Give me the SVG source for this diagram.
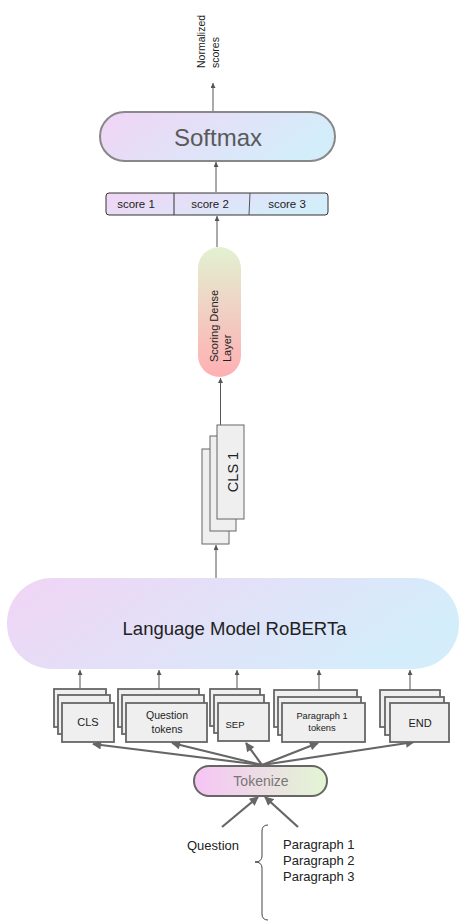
<svg xmlns="http://www.w3.org/2000/svg" width="459" height="922" viewBox="0 0 459 922">
<defs>
<linearGradient id="gPB" x1="0" y1="0" x2="1" y2="0.3">
<stop offset="0" stop-color="#f1d4f5"/><stop offset="1" stop-color="#d4edfb"/>
</linearGradient>
<linearGradient id="gDense" x1="0" y1="0" x2="0" y2="1">
<stop offset="0" stop-color="#e2f1d2"/><stop offset="1" stop-color="#ffafb3"/>
</linearGradient>
<linearGradient id="gTok" x1="0" y1="0" x2="1" y2="0">
<stop offset="0" stop-color="#f6c4f5"/><stop offset="1" stop-color="#e2f6d3"/>
</linearGradient>
<marker id="aS" viewBox="0 0 10 10" refX="10" refY="5" markerWidth="5" markerHeight="5" orient="auto" markerUnits="userSpaceOnUse">
<path d="M0,0 L10,5 L0,10 z" fill="#555"/>
</marker>
<marker id="aB" viewBox="0 0 10 10" refX="9" refY="5" markerWidth="11" markerHeight="9" orient="auto" markerUnits="userSpaceOnUse">
<path d="M0,0 L10,5 L0,10 z" fill="#666"/>
</marker>
</defs>
<style>
text{font-family:"Liberation Sans",Arial,sans-serif;}
.thin{stroke:#555;stroke-width:1;fill:none;marker-end:url(#aS);}
.thick{stroke:#666;stroke-width:2.2;fill:none;marker-end:url(#aB);}
.tk{fill:#efefef;stroke:#666;stroke-width:1.8;}
.cls{fill:#efefef;stroke:#666;stroke-width:1;}
.lbl{fill:#222;text-anchor:middle;}
</style>

<g id="connectors">
<line class="thin" x1="213" y1="112" x2="213" y2="83"/>
<line class="thin" x1="216" y1="192" x2="216" y2="162"/>
<line class="thin" x1="217" y1="247" x2="217" y2="216"/>
<line class="thin" x1="220.5" y1="425" x2="220.5" y2="378"/>
<line class="thin" x1="216" y1="578" x2="216" y2="545"/>
<line class="thin" x1="80" y1="689" x2="80" y2="670"/>
<line class="thin" x1="159" y1="689" x2="159" y2="670"/>
<line class="thin" x1="237" y1="689" x2="237" y2="670"/>
<line class="thin" x1="319" y1="690" x2="319" y2="670"/>
<line class="thin" x1="410" y1="690" x2="410" y2="670"/>
<line class="thick" x1="262" y1="765" x2="93" y2="744"/>
<line class="thick" x1="262" y1="765" x2="172" y2="743"/>
<line class="thick" x1="262" y1="765" x2="246" y2="743"/>
<line class="thick" x1="262" y1="765" x2="318" y2="743"/>
<line class="thick" x1="262" y1="765" x2="414" y2="742"/>
<line class="thick" x1="222" y1="827" x2="258" y2="797"/>
<line class="thick" x1="298" y1="827" x2="265" y2="797"/>
</g>

<g id="normalized-scores">
<text transform="rotate(-90 205 68)" x="205" y="68" font-size="10.5" fill="#222">Normalized</text>
<text transform="rotate(-90 219 68)" x="219" y="68" font-size="10.5" fill="#222">scores</text>
</g>

<g id="softmax">
<rect x="100" y="112" width="235" height="49" rx="24.5" fill="url(#gPB)" stroke="#888" stroke-width="2"/>
<text x="218" y="146" font-size="24" fill="#595959" text-anchor="middle">Softmax</text>
</g>

<g id="scores">
<rect x="106" y="193" width="222" height="22" rx="3" fill="url(#gPB)" stroke="#333" stroke-width="1"/>
<line x1="174" y1="193" x2="174" y2="215" stroke="#333" stroke-width="1"/>
<line x1="250" y1="193" x2="249" y2="215" stroke="#555" stroke-width="1"/>
<text class="lbl" x="136" y="208" font-size="11.5">score 1</text>
<text class="lbl" x="210" y="208" font-size="11.5">score 2</text>
<text class="lbl" x="287" y="208" font-size="11.5">score 3</text>
</g>

<g id="scoring-dense">
<rect x="198" y="247" width="43" height="130" rx="21.5" fill="url(#gDense)"/>
<text transform="rotate(-90 218 362)" x="218" y="362" font-size="11" fill="#222">Scoring Dense</text>
<text transform="rotate(-90 231 362)" x="231" y="362" font-size="11" fill="#222">Layer</text>
</g>

<g id="cls-stack">
<rect class="cls" x="202" y="449" width="27" height="95"/>
<rect class="cls" x="210" y="436" width="26" height="95"/>
<rect class="cls" x="217" y="425" width="27" height="94"/>
<text transform="rotate(-90 238 472)" x="238" y="472" font-size="14.5" fill="#222" text-anchor="middle">CLS 1</text>
</g>

<g id="roberta">
<rect x="7" y="578" width="452" height="91" rx="45" fill="url(#gPB)"/>
<text x="234.5" y="635" font-size="18.5" fill="#222" text-anchor="middle">Language Model RoBERTa</text>
</g>

<g id="tok-cls">
<rect class="tk" x="54" y="689" width="52" height="38"/>
<rect class="tk" x="58" y="695" width="52" height="39"/>
<rect class="tk" x="62" y="703" width="52" height="39"/>
<text class="lbl" x="88" y="726" font-size="11">CLS</text>
</g>

<g id="tok-question">
<rect class="tk" x="118" y="689" width="81" height="38"/>
<rect class="tk" x="122" y="695" width="82" height="39"/>
<rect class="tk" x="126" y="703" width="81" height="39"/>
<text class="lbl" x="167" y="719" font-size="10.5">Question</text>
<text class="lbl" x="167" y="733" font-size="10.5">tokens</text>
</g>

<g id="tok-sep">
<rect class="tk" x="210" y="689" width="50" height="37"/>
<rect class="tk" x="214" y="695" width="50" height="38"/>
<rect class="tk" x="218" y="703" width="51" height="38"/>
<text class="lbl" x="235" y="728" font-size="9.5">SEP</text>
</g>

<g id="tok-paragraph">
<rect class="tk" x="274" y="690" width="83" height="37"/>
<rect class="tk" x="278" y="697" width="83" height="38"/>
<rect class="tk" x="282" y="703" width="83" height="39"/>
<text class="lbl" x="322" y="719" font-size="9.3">Paragraph 1</text>
<text class="lbl" x="322" y="731" font-size="9.3">tokens</text>
</g>

<g id="tok-end">
<rect class="tk" x="380" y="690" width="60" height="37"/>
<rect class="tk" x="385" y="697" width="59" height="38"/>
<rect class="tk" x="390" y="703" width="59" height="39"/>
<text class="lbl" x="420" y="727" font-size="11">END</text>
</g>

<g id="tokenize">
<rect x="194" y="766" width="133" height="30" rx="15" fill="url(#gTok)" stroke="#666" stroke-width="2"/>
<text x="261" y="785.5" font-size="14" fill="#777" text-anchor="middle">Tokenize</text>
</g>

<g id="question">
<text x="213" y="850" font-size="13" fill="#222" text-anchor="middle">Question</text>
</g>

<g id="paragraphs">
<path d="M268,825 Q262,825 262,831 L262,856 Q262,862 255,862 Q262,862 262,868 L262,914 Q262,920 268,920" fill="none" stroke="#444" stroke-width="1"/>
<text x="283" y="849" font-size="13" fill="#222">Paragraph 1</text>
<text x="283" y="865" font-size="13" fill="#222">Paragraph 2</text>
<text x="283" y="881" font-size="13" fill="#222">Paragraph 3</text>
</g>
</svg>
